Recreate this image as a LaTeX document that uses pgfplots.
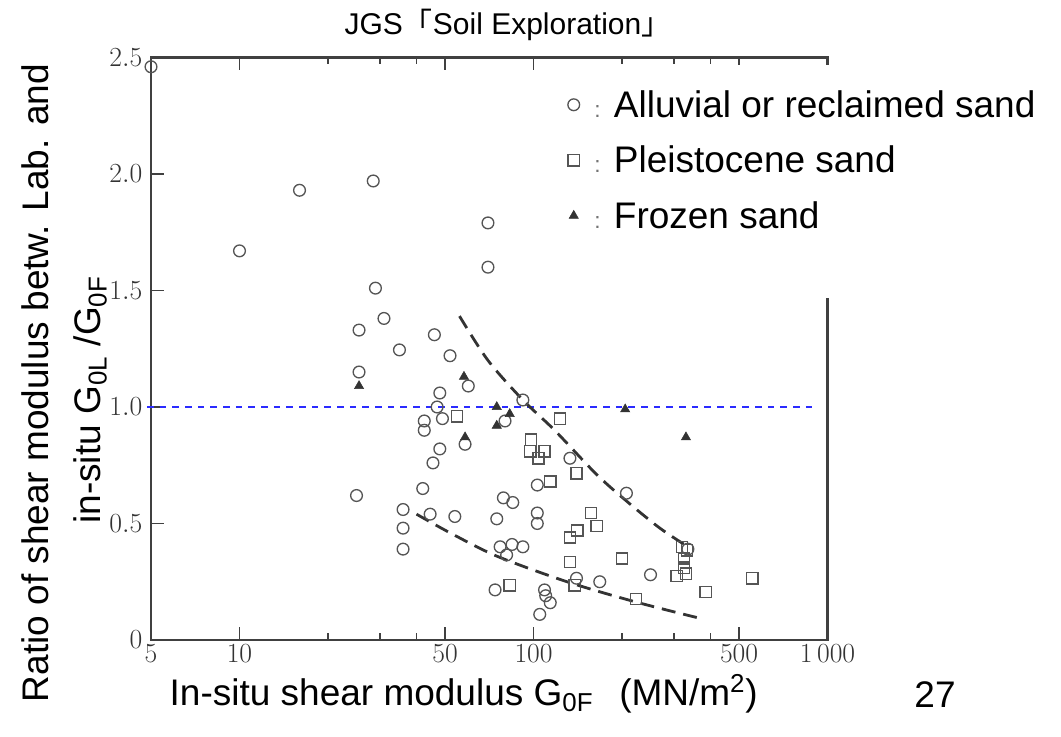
\documentclass[border=0pt]{standalone}
\usepackage{fontspec}
\setmainfont{Liberation Sans}
\newfontfamily\cjk{Noto Sans CJK JP}
\usepackage{pgfplots}
\usepackage{pgfplotstable}
\pgfplotsset{compat=1.18}

\definecolor{spine}{HTML}{404040}
\definecolor{markgray}{HTML}{555555}
\definecolor{refblue}{HTML}{2B2BFF}

% Alluvial or reclaimed sand
\pgfplotstableread{
x y
5 2.46
10 1.67
16 1.93
28.5 1.97
70 1.79
70 1.60
29 1.51
31 1.38
25.5 1.33
46 1.31
35 1.245
52 1.22
25.5 1.15
48 1.06
60 1.09
92 1.03
80 0.94
47 1.00
49 0.95
42.5 0.94
42.5 0.90
58.5 0.84
48 0.82
45.5 0.76
42 0.65
25 0.62
36 0.56
36 0.48
36 0.39
44.5 0.54
54 0.53
75 0.52
79 0.61
85 0.59
103 0.545
103 0.50
103 0.665
77 0.40
84.5 0.41
92 0.40
81 0.365
74 0.215
109 0.215
110 0.19
114 0.16
105 0.11
133 0.78
140 0.265
168 0.25
207 0.63
250 0.28
335 0.39
}\alluvial

% Pleistocene sand
\pgfplotstableread{
x y
55 0.96
98 0.86
97.5 0.81
109 0.81
104 0.78
123 0.95
114 0.68
140 0.715
157 0.545
164 0.49
141 0.47
133 0.44
133 0.335
138 0.235
83 0.235
200 0.35
223 0.175
320 0.40
333 0.385
325 0.35
325 0.31
330 0.285
307 0.275
385 0.205
555 0.265
}\pleistocene

% Frozen sand
\pgfplotstableread{
x y
25.5 1.09
58 1.13
75 1.00
83 0.97
75 0.92
58.5 0.87
205 0.99
330 0.87
}\frozen

\newcommand\legcolon{{\color{black!55}\fontsize{17}{17}\selectfont:}\hspace{10pt}}

\begin{document}
\begin{tikzpicture}
\path[use as bounding box] (0pt,0pt) rectangle (795.75pt,552pt);

\begin{axis}[
  at={(113.25pt,72pt)}, anchor=south west,
  scale only axis, width=507.4pt, height=436.9pt,
  xmode=log, xmin=5, xmax=1000, ymin=0, ymax=2.5,
  axis line style={spine, line width=1.6pt},
  tick style={spine, line width=1.1pt},
  major tick length=9.5pt, minor tick length=5pt,
  tick align=inside,
  xtick={10,50,100,500}, xticklabels={$10$,$50$,$100$,$500$},
  minor xtick={20,30,40,200,300,400},
  extra x ticks={5,1000}, extra x tick labels={$5$,$1\,000$},
  extra x tick style={major tick length=0pt},
  ytick={0,0.5,1,1.5,2,2.5},
  yticklabels={$0$,$0.5$,$1.0$,$1.5$,$2.0$,$2.5$},
  ytick pos=left,
  ticklabel style={font=\fontsize{21.5}{25}\selectfont, text=black!80},
  yticklabel style={xshift=-3pt},
  clip=false,
  legend style={at={(0.6158,0.944)}, anchor=north west, draw=none, fill=none,
    inner sep=0pt, font=\fontsize{27.75}{33}\selectfont,
    row sep=20pt, column sep=11pt, nodes={inner sep=0pt}},
  legend cell align=left,
  legend image code/.code={\draw[#1] plot coordinates {(0pt,0pt)};},
]
% reference line at ratio 1
\addplot[refblue, line width=1.1pt, dash pattern=on 5pt off 4.5pt, forget plot]
  coordinates {(4.85,1) (885,1)};
% upper and lower bounds
\addplot[black!80, line width=2.1pt, dash pattern=on 10.5pt off 6pt, smooth, forget plot]
  coordinates {(56,1.39) (70,1.2) (92,1.03) (118,0.90) (164,0.71) (210,0.59) (269,0.48) (335,0.40)};
\addplot[black!80, line width=2.1pt, dash pattern=on 10.5pt off 6pt, smooth, forget plot]
  coordinates {(40,0.54) (52,0.46) (75,0.36) (130,0.25) (223,0.163) (377,0.09)};

\addplot[only marks, mark=o, mark size=4.4pt, markgray, mark options={line width=1pt}]
  table {\alluvial};
\addlegendentry{\legcolon Alluvial or reclaimed sand}
\addplot[only marks, mark=square, mark size=4.2pt, markgray, mark options={line width=1pt}]
  table {\pleistocene};
\addlegendentry{\legcolon Pleistocene sand}
\addplot[only marks, mark=triangle*, mark size=4pt, black!80]
  table {\frozen};
\addlegendentry{\legcolon Frozen sand}

% white panel behind the legend text
\fill[white] (axis cs:169.7,1.468) rectangle (axis cs:6300,2.468);
\end{axis}

\begin{scope}[x=0.75pt,y=0.75pt]
\node[anchor=base, font=\fontsize{22.5}{26}\selectfont] at (508,701)
  {JGS{\cjk 「}Soil Exploration{\cjk 」}};
\node[anchor=base west, font=\fontsize{27.75}{33}\selectfont] at (165,31)
  {In-situ shear modulus G\textsubscript{0F}\hspace{0.7em}(MN/m\textsuperscript{2})};
\node[rotate=90, anchor=base, font=\fontsize{27.75}{33}\selectfont] at (48,353)
  {Ratio of shear modulus betw. Lab. and};
\node[rotate=90, anchor=base, font=\fontsize{27.75}{33}\selectfont] at (100,336)
  {in-situ G\textsubscript{0L} /G\textsubscript{0F}};
\node[anchor=base, font=\fontsize{27.75}{33}\selectfont] at (935,28) {27};
\end{scope}
\end{tikzpicture}
\end{document}
